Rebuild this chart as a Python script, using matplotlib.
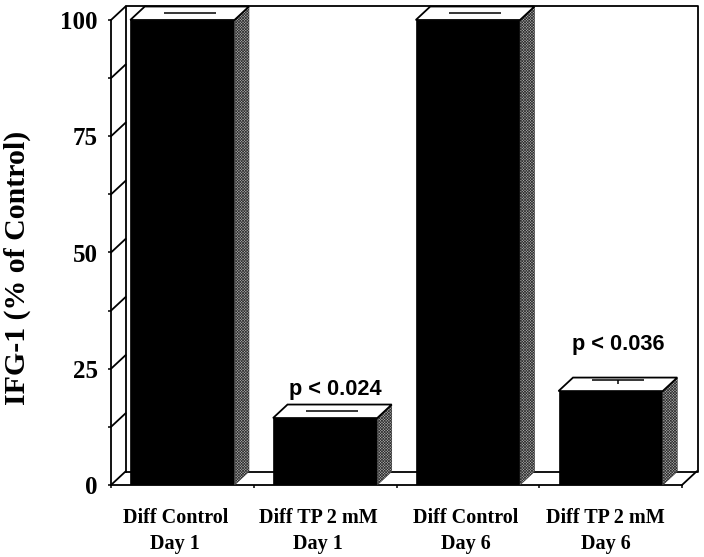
import matplotlib
matplotlib.use('Agg')
import matplotlib.pyplot as plt
from matplotlib.patches import Polygon

plt.rcParams['font.family'] = ['Liberation Serif', 'DejaVu Serif']
plt.rcParams['hatch.linewidth'] = 0.5

categories = ['Diff Control\nDay 1', 'Diff TP 2 mM\nDay 1', 'Diff Control\nDay 6', 'Diff TP 2 mM\nDay 6']
values = [100, 14.4, 100, 20.2]
err_up = [0, 0, 0, 1]
p_labels = {1: 'p < 0.024', 3: 'p < 0.036'}
y_major = [0, 25, 50, 75, 100]
y_minor = [12.5, 37.5, 62.5, 87.5]

W, H = 704, 557
L, R, T, B = 111, 682, 20, 485
fig = plt.figure(figsize=(W / 100, H / 100), dpi=100, facecolor='white')
ax = fig.add_axes([L / W, 1 - B / H, (R - L) / W, (B - T) / H])
ax.set_xlim(-0.5, 3.5)
ax.set_ylim(0, 100)
ax.patch.set_visible(False)
for s in ['top', 'right']:
    ax.spines[s].set_visible(False)
for s in ['left', 'bottom']:
    ax.spines[s].set_linewidth(1.3)

# 3d depth in data units
dx = 14.5 / ((R - L) / 4)
dy = 13.5 / ((B - T) / 100)
lw = 1.3
bar_w = 0.73

# back walls and floor
ax.plot([-0.5 + dx, -0.5 + dx, 3.5 + dx + 0.01, 3.5 + dx + 0.01, -0.5 + dx],
        [dy, 100 + dy, 100 + dy, dy, dy], color='black', lw=lw, clip_on=False)
ax.plot([3.5, 3.5 + dx], [0, dy], color='black', lw=lw, clip_on=False)
for v in y_major + y_minor:
    ax.plot([-0.5, -0.5 + dx], [v, v + dy], color='black', lw=lw, clip_on=False)

bars = ax.bar(range(4), values, width=bar_w, color='black', edgecolor='black', lw=0.5, zorder=3)
for b in bars:
    x0, x1, h = b.get_x(), b.get_x() + b.get_width(), b.get_height()
    ax.add_patch(Polygon([(x1, 0), (x1 + dx, dy), (x1 + dx, h + dy), (x1, h)], closed=True,
                         facecolor='#b0b0b0', edgecolor='#303030', hatch='xxxxxxxxxxxx', lw=0.4,
                         clip_on=False, zorder=3))
    ax.add_patch(Polygon([(x0, h), (x0 + dx, h + dy), (x1 + dx, h + dy), (x1, h)], closed=True,
                         facecolor='white', edgecolor='black', lw=lw, clip_on=False, zorder=3))

# error bars sit in the middle of the top face
eb = ax.errorbar([i + dx / 2 for i in range(4)], [v + dy / 2 for v in values],
                 yerr=[[0] * 4, err_up], fmt='none', ecolor='black', elinewidth=1.1,
                 capsize=18.5, capthick=1.1, clip_on=False, zorder=4)
eb[1][0].set_visible(False)

ax.set_yticks(y_major)
ax.set_yticks(y_minor, minor=True)
ax.set_xticks([-0.5, 0.5, 1.5, 2.5, 3.5])
ax.set_xticklabels([])
ax.tick_params(axis='both', which='both', length=2.5, width=1.1)
ax.tick_params(axis='y', labelsize=18, pad=7)
for t in ax.get_yticklabels():
    t.set_fontweight('bold')

ax.set_ylabel('IFG-1 (% of Control)', fontsize=21.5, fontweight='bold')
ax.yaxis.set_label_coords(-0.14, 0.467)

label_shift = [-7, -7, -2, -5]
for i, c in enumerate(categories):
    ax.annotate(c, (i, 0), xytext=(label_shift[i] * 0.72, -16.5), textcoords='offset points',
                ha='center', va='top', fontsize=14.5, fontweight='bold', linespacing=1.4)

p_offset = {1: (7.2, 11), 3: (5.8, 20.5)}
for i, txt in p_labels.items():
    ax.annotate(txt, (i, values[i] + dy + err_up[i]), xytext=p_offset[i], textcoords='offset points',
                ha='center', va='center', fontsize=15.7, fontweight='bold',
                family=['Liberation Sans', 'DejaVu Sans'])

fig.savefig('out.png', dpi=100, facecolor='white')
